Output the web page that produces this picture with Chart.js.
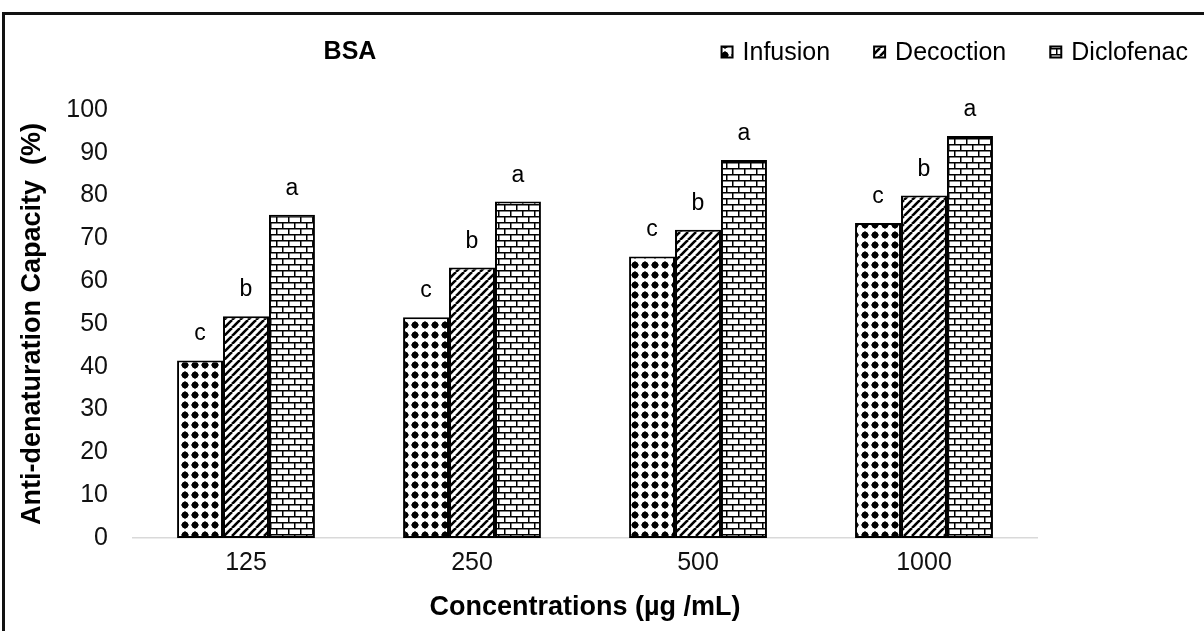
<!DOCTYPE html>
<html>
<head>
<meta charset="utf-8">
<script src="https://cdn.jsdelivr.net/npm/chart.js@4.4.1/dist/chart.umd.min.js"></script>
<style>
  html, body { margin: 0; padding: 0; background: #fff; overflow: hidden; }
  #wrap { position: relative; width: 1204px; height: 631px; }
  #frame { position: absolute; left: 2px; top: 12px; right: -20px; bottom: -20px;
           border-top: 3px solid #111; border-left: 3px solid #111; pointer-events: none; }
</style>
</head>
<body>
<div id="wrap">
  <canvas id="bsaChart"></canvas>
  <div id="frame"></div>
</div>
<script>
// data
const concentrations = ['125', '250', '500', '1000'];
const infusion   = [41.5, 51.6, 65.8, 73.6];
const decoction  = [51.8, 63.2, 72.0, 80.0];
const diclofenac = [75.5, 78.6, 88.3, 93.9];
const infusionLetters   = ['c', 'c', 'c', 'c'];
const decoctionLetters  = ['b', 'b', 'b', 'b'];
const diclofenacLetters = ['a', 'a', 'a', 'a'];
const yTicks = [0, 10, 20, 30, 40, 50, 60, 70, 80, 90, 100];

const FONT = "'Liberation Sans', Arial, sans-serif";

function makeTile(w, h, paint) {
    const c = document.createElement('canvas');
    c.width = w; c.height = h;
    const g = c.getContext('2d');
    g.fillStyle = '#fff';
    g.fillRect(0, 0, w, h);
    g.fillStyle = '#000';
    g.strokeStyle = '#000';
    paint(g);
    return c;
}

const ctx = document.getElementById('bsaChart').getContext('2d');

// dotted pattern
const dots = ctx.createPattern(makeTile(10, 10, g => {
    g.beginPath();
    g.moveTo(5, 1); g.lineTo(9, 5); g.lineTo(5, 9); g.lineTo(1, 5); g.closePath();
    g.fill();
    g.beginPath(); g.arc(5, 5, 3.2, 0, Math.PI * 2); g.fill();
}), 'repeat');

// wide upward diagonal
const diag = ctx.createPattern(makeTile(8, 8, g => {
    g.lineWidth = 2.6;
    for (const o of [-8, 0, 8]) {
        g.beginPath(); g.moveTo(o, 8); g.lineTo(o + 8, 0); g.stroke();
    }
}), 'repeat');

// horizontal brick
const brick = ctx.createPattern(makeTile(12, 12, g => {
    g.fillRect(0, 0, 12, 1.5);
    g.fillRect(0, 6, 12, 1.5);
    g.fillRect(0, 0, 1.5, 6);
    g.fillRect(6, 6, 1.5, 6);
}), 'repeat');

const letterSets = [infusionLetters, decoctionLetters, diclofenacLetters];

const extras = {
    id: 'extras',
    afterDatasetsDraw(chart) {
        const c = chart.ctx;
        c.save();
        c.fillStyle = '#000';
        c.font = '23px ' + FONT;
        c.textAlign = 'center';
        c.textBaseline = 'alphabetic';
        chart.data.datasets.forEach((ds, i) => {
            chart.getDatasetMeta(i).data.forEach((bar, j) => {
                c.fillText(letterSets[i][j], bar.x, bar.y - 20);
            });
        });
        c.restore();
    },
    afterDraw(chart) {
        const c = chart.ctx;
        const cy = 52;
        c.save();
        c.fillStyle = '#000';
        c.textBaseline = 'middle';
        // title
        c.font = 'bold 25px ' + FONT;
        c.textAlign = 'center';
        c.fillText('BSA', chart.chartArea.left + 217, cy);
        // legend, right aligned
        c.font = '25px ' + FONT;
        c.textAlign = 'left';
        const box = 11, gapText = 10, gapItem = 44;
        let x = chart.width - 16;
        const ds = chart.data.datasets;
        for (let i = ds.length - 1; i >= 0; i--) {
            const w = c.measureText(ds[i].label).width;
            const tx = x - w;
            const bx = tx - gapText - box;
            c.fillStyle = '#000';
            c.fillText(ds[i].label, tx, cy + 1);
            c.fillStyle = ds[i].backgroundColor;
            c.fillRect(bx, cy - box / 2, box, box);
            c.lineWidth = 2;
            c.strokeStyle = '#000';
            c.strokeRect(bx, cy - box / 2, box, box);
            x = bx - gapItem;
        }
        c.restore();
    }
};

new Chart(ctx, {
    type: 'bar',
    data: {
        labels: concentrations,
        datasets: [
            { label: 'Infusion', data: infusion, backgroundColor: dots },
            { label: 'Decoction', data: decoction, backgroundColor: diag },
            { label: 'Diclofenac', data: diclofenac, backgroundColor: brick }
        ].map(d => Object.assign(d, {
            borderColor: '#000',
            borderWidth: 2,
            borderSkipped: false,
            categoryPercentage: 0.61,
            barPercentage: 1.0
        }))
    },
    options: {
        responsive: true,
        maintainAspectRatio: false,
        animation: false,
        layout: { padding: { top: 110, right: 167, bottom: 5, left: 0 } },
        plugins: {
            legend: { display: false },
            tooltip: { enabled: false }
        },
        scales: {
            x: {
                afterFit: scale => { scale.height = 88; },
                grid: { display: false, drawTicks: false },
                border: { display: true, color: '#d9d9d9', width: 1.5 },
                ticks: { color: '#111', font: { family: FONT, size: 25 }, padding: 10 },
                title: {
                    display: true,
                    text: 'Concentrations (µg /mL)',
                    color: '#000',
                    font: { family: FONT, size: 27, weight: 'bold' },
                    padding: { top: 0, bottom: 2 }
                }
            },
            y: {
                min: 0,
                max: 100,
                afterBuildTicks: scale => { scale.ticks = yTicks.map(v => ({ value: v })); },
                afterFit: scale => { scale.width = 133; },
                grid: { display: false, drawTicks: false },
                border: { display: false },
                ticks: { color: '#111', font: { family: FONT, size: 25 }, padding: 25 },
                title: {
                    display: true,
                    text: 'Anti-denaturation Capacity  (%)',
                    color: '#000',
                    font: { family: FONT, size: 27, weight: 'bold' },
                    padding: { top: 16, bottom: 0 }
                }
            }
        }
    },
    plugins: [extras]
});
</script>
</body>
</html>
